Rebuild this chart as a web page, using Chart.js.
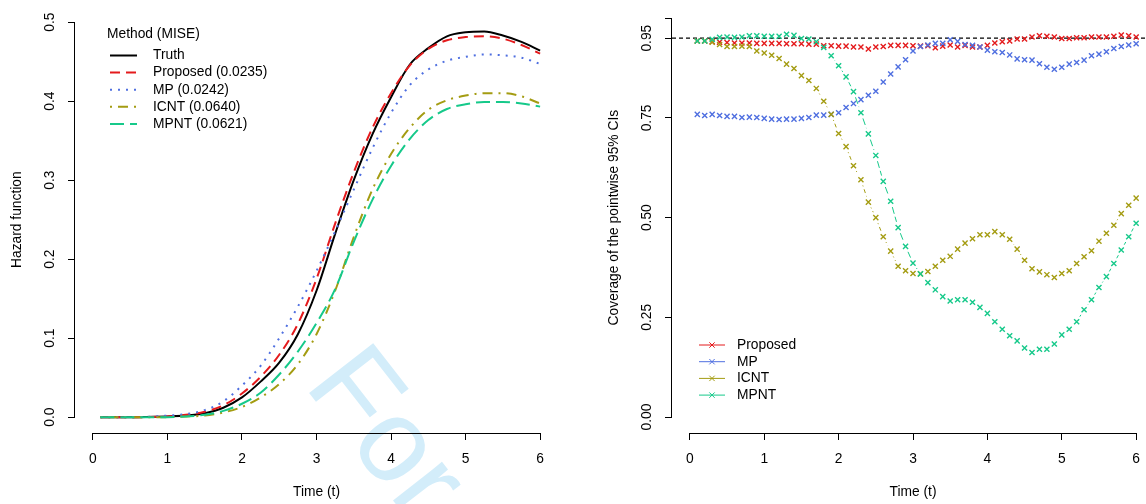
<!DOCTYPE html>
<html>
<head>
<meta charset="utf-8">
<script src="https://cdn.jsdelivr.net/npm/chart.js@4.4.1/dist/chart.umd.min.js"></script>
<style>
  html, body { margin: 0; padding: 0; background: #fff; }
  body { position: relative; width: 1146px; height: 504px; overflow: hidden; }
  #mark {
    position: absolute; left: 382px; top: 324px;
    font: 118px "Liberation Sans", Arial, sans-serif; line-height: 1;
    color: #d3edfa; white-space: nowrap;
    transform-origin: 0 0; transform: rotate(52deg);
  }
  canvas { position: absolute; top: -10px; }
  #hazard { left: 0; }
  #coverage { left: 573px; }
</style>
</head>
<body>
<div id="mark">For</div>
<canvas id="hazard" width="580" height="514"></canvas>
<canvas id="coverage" width="600" height="514"></canvas>
<script>
// Left panel: estimated hazard curves
const HAZ_TIME     = [0.1, 0.5, 1.0, 1.25, 1.5, 1.75, 2.0, 2.25, 2.5, 2.75, 3.0, 3.25, 3.5, 3.75, 4.0, 4.25, 4.5, 4.75, 5.0, 5.25, 5.5, 5.75, 6.0];
const HAZ_TRUTH    = [0, 0, 0.001, 0.002, 0.005, 0.012, 0.025, 0.045, 0.069, 0.105, 0.160, 0.232, 0.300, 0.358, 0.405, 0.446, 0.467, 0.482, 0.487, 0.488, 0.483, 0.475, 0.464];
const HAZ_PROPOSED = [0, 0, 0.001, 0.003, 0.007, 0.015, 0.030, 0.051, 0.079, 0.118, 0.175, 0.245, 0.310, 0.366, 0.410, 0.445, 0.466, 0.477, 0.481, 0.482, 0.479, 0.471, 0.460];
const HAZ_MP       = [0, 0, 0.002, 0.004, 0.009, 0.020, 0.040, 0.065, 0.100, 0.140, 0.185, 0.235, 0.288, 0.340, 0.385, 0.420, 0.440, 0.451, 0.456, 0.459, 0.458, 0.455, 0.447];
const HAZ_ICNT     = [0, 0, 0.000, 0.001, 0.002, 0.006, 0.013, 0.025, 0.042, 0.067, 0.105, 0.160, 0.228, 0.288, 0.333, 0.366, 0.389, 0.401, 0.407, 0.410, 0.410, 0.406, 0.397];
const HAZ_MPNT     = [0, 0, 0.000, 0.001, 0.003, 0.008, 0.017, 0.031, 0.054, 0.083, 0.119, 0.162, 0.222, 0.275, 0.318, 0.352, 0.376, 0.390, 0.396, 0.399, 0.399, 0.397, 0.393];
const HAZ_MISE     = [null, 0.0235, 0.0242, 0.0640, 0.0621];

// Right panel: pointwise coverage, t = 0.1 ... 6.0
const COV_TIME = [0.1, 0.2, 0.3, 0.4, 0.5, 0.6, 0.7, 0.8, 0.9, 1.0,
                  1.1, 1.2, 1.3, 1.4, 1.5, 1.6, 1.7, 1.8, 1.9, 2.0,
                  2.1, 2.2, 2.3, 2.4, 2.5, 2.6, 2.7, 2.8, 2.9, 3.0,
                  3.1, 3.2, 3.3, 3.4, 3.5, 3.6, 3.7, 3.8, 3.9, 4.0,
                  4.1, 4.2, 4.3, 4.4, 4.5, 4.6, 4.7, 4.8, 4.9, 5.0,
                  5.1, 5.2, 5.3, 5.4, 5.5, 5.6, 5.7, 5.8, 5.9, 6.0];
const COV_PROPOSED = [0.943, 0.943, 0.941, 0.940, 0.939, 0.938, 0.938, 0.938, 0.937, 0.937,
                      0.937, 0.937, 0.936, 0.936, 0.936, 0.935, 0.935, 0.931, 0.931, 0.930,
                      0.930, 0.928, 0.928, 0.923, 0.928, 0.929, 0.932, 0.932, 0.932, 0.931,
                      0.930, 0.931, 0.926, 0.930, 0.933, 0.928, 0.932, 0.928, 0.928, 0.932,
                      0.938, 0.941, 0.943, 0.948, 0.948, 0.953, 0.956, 0.955, 0.953, 0.949,
                      0.949, 0.951, 0.951, 0.953, 0.953, 0.953, 0.955, 0.958, 0.956, 0.953];
const COV_MP       = [0.759, 0.756, 0.759, 0.756, 0.754, 0.754, 0.751, 0.752, 0.751, 0.749,
                      0.747, 0.746, 0.747, 0.747, 0.749, 0.751, 0.757, 0.757, 0.759, 0.763,
                      0.776, 0.786, 0.796, 0.807, 0.817, 0.840, 0.860, 0.878, 0.896, 0.918,
                      0.929, 0.933, 0.937, 0.937, 0.946, 0.942, 0.934, 0.932, 0.928, 0.920,
                      0.916, 0.914, 0.908, 0.898, 0.896, 0.895, 0.886, 0.877, 0.872, 0.877,
                      0.885, 0.889, 0.895, 0.906, 0.910, 0.916, 0.924, 0.929, 0.933, 0.936];
const COV_ICNT     = [0.943, 0.943, 0.940, 0.934, 0.929, 0.929, 0.930, 0.929, 0.918, 0.913,
                      0.907, 0.899, 0.885, 0.874, 0.856, 0.844, 0.824, 0.792, 0.759, 0.711,
                      0.678, 0.630, 0.595, 0.539, 0.500, 0.452, 0.416, 0.378, 0.367, 0.360,
                      0.359, 0.365, 0.378, 0.393, 0.403, 0.421, 0.436, 0.447, 0.457, 0.457,
                      0.465, 0.457, 0.446, 0.421, 0.393, 0.372, 0.364, 0.357, 0.350, 0.360,
                      0.367, 0.385, 0.402, 0.417, 0.441, 0.461, 0.481, 0.510, 0.531, 0.549];
const COV_MPNT     = [0.943, 0.943, 0.947, 0.952, 0.953, 0.952, 0.953, 0.956, 0.956, 0.955,
                      0.955, 0.955, 0.960, 0.957, 0.949, 0.948, 0.941, 0.927, 0.906, 0.881,
                      0.853, 0.816, 0.763, 0.710, 0.656, 0.591, 0.541, 0.475, 0.428, 0.386,
                      0.359, 0.337, 0.319, 0.302, 0.291, 0.294, 0.294, 0.288, 0.275, 0.260,
                      0.239, 0.220, 0.204, 0.191, 0.173, 0.162, 0.170, 0.170, 0.183, 0.206,
                      0.220, 0.239, 0.269, 0.294, 0.325, 0.352, 0.385, 0.419, 0.452, 0.486];
const NOMINAL = 0.95;

// Axes
const TIME_TICKS  = [0, 1, 2, 3, 4, 5, 6];
const TIME_RANGE  = [-0.24, 6.24];
const HAZ_Y_TICKS = [0, 0.1, 0.2, 0.3, 0.4, 0.5];
const HAZ_Y_RANGE = [-0.02, 0.52];
const COV_Y_TICKS = [0, 0.25, 0.5, 0.75, 0.95, 1];
const COV_Y_RANGE = [-0.04, 1.04];

const FONT = '"Liberation Sans", Arial, Helvetica, sans-serif';
const FS = 13.8;
const RED = '#e41a1c', BLUE = '#4f6fe0', OLIVE = '#a49c12', GREEN = '#16c98a';

Chart.defaults.font.family = FONT;
Chart.defaults.font.size = FS;
Chart.defaults.color = '#000';

// R-style axis line: runs only between the first and last tick
const rAxes = {
    id: 'rAxes',
    afterDraw(chart) {
        const { ctx, chartArea, scales: { x, y } } = chart;
        const xa = x.getPixelForValue(x.ticks[0].value);
        const xb = x.getPixelForValue(x.ticks[x.ticks.length - 1].value);
        const ya = y.getPixelForValue(y.ticks[0].value);
        const yb = y.getPixelForValue(y.ticks[y.ticks.length - 1].value);
        const by = Math.round(chartArea.bottom) + 0.5;
        const lx = Math.round(chartArea.left) - 0.5;
        ctx.save();
        ctx.strokeStyle = '#000';
        ctx.lineWidth = 1;
        ctx.beginPath();
        ctx.moveTo(xa, by); ctx.lineTo(xb, by);
        ctx.moveTo(lx, ya); ctx.lineTo(lx, yb);
        ctx.stroke();
        ctx.restore();
    }
};

// R-style legend without a box
const rLegend = {
    id: 'rLegend',
    afterDraw(chart, args, opts) {
        const { ctx } = chart;
        ctx.save();
        ctx.font = `${FS}px ${FONT}`;
        ctx.fillStyle = '#000';
        ctx.textBaseline = 'middle';
        if (opts.title) ctx.fillText(opts.title, opts.titleX, opts.titleY);
        chart.data.datasets.filter(ds => ds.label).forEach((ds, i) => {
            const y = opts.y0 + i * opts.step;
            ctx.save();
            ctx.strokeStyle = ds.borderColor;
            ctx.lineWidth = opts.lineWidth;
            ctx.setLineDash(opts.solid ? [] : (ds.legendDash || []));
            ctx.beginPath();
            ctx.moveTo(opts.x0, y);
            ctx.lineTo(opts.x1, y);
            ctx.stroke();
            ctx.restore();
            if (opts.marker) {
                ctx.save();
                ctx.strokeStyle = ds.borderColor;
                Chart.helpers.drawPoint(ctx, {
                    pointStyle: 'crossRot', radius: 3.8, borderWidth: 1.3, rotation: 0
                }, (opts.x0 + opts.x1) / 2, y);
                ctx.restore();
            }
            ctx.fillStyle = '#000';
            ctx.fillText(ds.label, opts.textX, y);
        });
        ctx.restore();
    }
};

function xAxis() {
    return {
        type: 'linear', min: TIME_RANGE[0], max: TIME_RANGE[1],
        afterBuildTicks: s => { s.ticks = TIME_TICKS.map(v => ({ value: v })); },
        afterFit: s => { s.height = 71; },
        grid: { drawOnChartArea: false, drawTicks: true, tickLength: 7, color: '#000', lineWidth: 1 },
        border: { display: false },
        ticks: { autoSkip: false, maxRotation: 0, padding: 11, color: '#000', callback: v => String(v) },
        title: { display: true, text: 'Time (t)', color: '#000', padding: { top: 0, bottom: 3.2 } }
    };
}

function yAxis(range, tickValues, width, pad, titlePad, title, fmt) {
    return {
        type: 'linear', min: range[0], max: range[1],
        afterBuildTicks: s => { s.ticks = tickValues.map(v => ({ value: v })); },
        afterFit: s => { s.width = width; },
        grid: { drawOnChartArea: false, drawTicks: true, tickLength: 7, color: '#000', lineWidth: 1 },
        border: { display: false },
        ticks: { autoSkip: false, minRotation: 90, maxRotation: 90, crossAlign: 'center', padding: pad, color: '#000', callback: fmt },
        title: { display: true, text: title, color: '#000', padding: { top: titlePad, bottom: 0 } }
    };
}

// ---- left: hazard function ----
const hazSeries = [
    { name: 'Truth',    values: HAZ_TRUTH,    color: '#000', dash: [] },
    { name: 'Proposed', values: HAZ_PROPOSED, color: RED,    dash: [10, 6] },
    { name: 'MP',       values: HAZ_MP,       color: BLUE,   dash: [2, 6] },
    { name: 'ICNT',     values: HAZ_ICNT,     color: OLIVE,  dash: [2, 6, 10, 6] },
    { name: 'MPNT',     values: HAZ_MPNT,     color: GREEN,  dash: [14, 6] }
];

new Chart(document.getElementById('hazard'), {
    type: 'line',
    data: {
        datasets: hazSeries.map((s, i) => ({
            label: HAZ_MISE[i] == null ? s.name : `${s.name} (${HAZ_MISE[i].toFixed(4)})`,
            data: HAZ_TIME.map((t, j) => ({ x: t, y: s.values[j] })),
            borderColor: s.color,
            borderDash: s.dash,
            legendDash: s.dash,
            borderWidth: 2,
            pointRadius: 0,
            cubicInterpolationMode: 'monotone',
            order: hazSeries.length - i
        }))
    },
    options: {
        responsive: false,
        animation: false,
        layout: { padding: { top: 11, right: 22, left: 0, bottom: 0 } },
        plugins: {
            legend: { display: false },
            tooltip: { enabled: false },
            rLegend: {
                title: 'Method (MISE)', titleX: 107, titleY: 44,
                x0: 110, x1: 137, textX: 153, y0: 65.5, step: 17.1,
                lineWidth: 2, solid: false, marker: false
            }
        },
        scales: {
            x: xAxis(),
            y: yAxis(HAZ_Y_RANGE, HAZ_Y_TICKS, 75, 8, 9, 'Hazard function', v => v.toFixed(1))
        }
    },
    plugins: [rAxes, rLegend]
});

// ---- right: coverage of pointwise CIs ----
// type="b" look: each segment is only drawn outside a gap round both points
const GAP = 6;
function gapSegment(color, pattern) {
    const visible = c => Math.hypot(c.p1.x - c.p0.x, c.p1.y - c.p0.y) - 2 * GAP;
    return {
        borderColor: c => visible(c) > 0 ? color : 'rgba(0,0,0,0)',
        borderDash: c => {
            const v = visible(c);
            if (v <= 0) return [];
            const arr = [];
            let pos = 0, k = 0;
            while (pos < v - 1e-6) {
                const seg = Math.min(pattern[k % pattern.length], v - pos);
                arr.push(seg); pos += seg; k++;
            }
            if (arr.length % 2 === 1) arr.push(GAP + 1000);
            else arr[arr.length - 1] += GAP + 1000;
            return arr;
        },
        borderDashOffset: c => {
            const v = visible(c);
            if (v <= 0) return 0;
            return v + 1000 + (c.p0DataIndex % 2) * 1e-4;
        }
    };
}

const covSeries = [
    { name: 'Proposed', values: COV_PROPOSED, color: RED,   dash: [1000] },
    { name: 'MP',       values: COV_MP,       color: BLUE,  dash: [1000] },
    { name: 'ICNT',     values: COV_ICNT,     color: OLIVE, dash: [1, 3, 4, 3] },
    { name: 'MPNT',     values: COV_MPNT,     color: GREEN, dash: [7, 3] }
];

const covDatasets = covSeries.map((s, i) => ({
    label: s.name,
    data: COV_TIME.map((t, j) => ({ x: t, y: s.values[j] })),
    borderColor: s.color,
    backgroundColor: s.color,
    borderWidth: 1,
    pointStyle: 'crossRot',
    pointRadius: 3.6,
    pointBorderWidth: 1.4,
    pointBorderColor: s.color,
    segment: gapSegment(s.color, s.dash),
    order: covSeries.length - i
}));
covDatasets.push({
    label: '',
    data: TIME_RANGE.map(t => ({ x: t, y: NOMINAL })),
    borderColor: '#000',
    borderWidth: 1.2,
    borderDash: [4, 3],
    pointRadius: 0,
    order: covSeries.length + 1
});

new Chart(document.getElementById('coverage'), {
    type: 'line',
    data: { datasets: covDatasets },
    options: {
        responsive: false,
        animation: false,
        layout: { padding: { top: 10, right: 19, left: 0, bottom: 0 } },
        plugins: {
            legend: { display: false },
            tooltip: { enabled: false },
            rLegend: {
                x0: 126, x1: 152, textX: 164, y0: 355, step: 16.7,
                lineWidth: 1, solid: true, marker: true
            }
        },
        scales: {
            x: xAxis(),
            y: yAxis(COV_Y_RANGE, COV_Y_TICKS, 99, 4, 32.7, 'Coverage of the pointwise 95% CIs',
                     v => v === 1 ? '' : v.toFixed(2))
        }
    },
    plugins: [rAxes, rLegend]
});
</script>
</body>
</html>
